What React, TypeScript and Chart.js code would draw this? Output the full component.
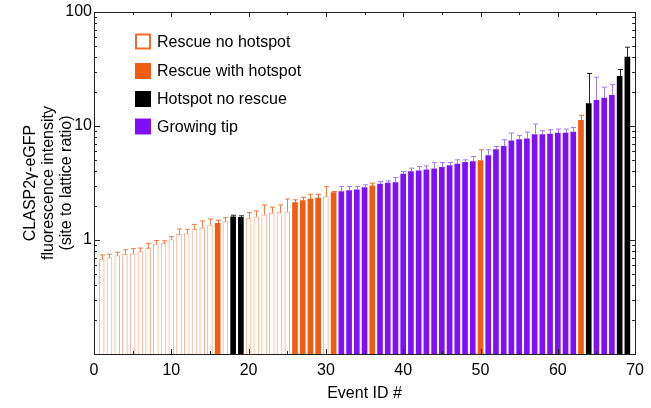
import { useEffect, useRef } from "react";
import { Chart, registerables } from "chart.js";

Chart.register(...registerables);

const FONT = "'Liberation Sans', Arial, Helvetica, sans-serif";

const categories = ["Rescue no hotspot", "Rescue with hotspot", "Hotspot no rescue", "Growing tip"];

const eventIds = Array.from({ length: 69 }, (_, i) => i + 1);

// category index of every event (0..3 -> categories)
const groups = [
  0, 0, 0, 0, 0, 0, 0, 0, 0, 0,
  0, 0, 0, 0, 0, 1, 0, 2, 2, 0,
  0, 0, 0, 0, 0, 1, 1, 1, 1, 0,
  1, 3, 3, 3, 3, 1, 3, 3, 3, 3,
  3, 3, 3, 3, 3, 3, 3, 3, 3, 1,
  3, 3, 3, 3, 3, 3, 3, 3, 3, 3,
  3, 3, 1, 2, 3, 3, 3, 2, 2,
];

const values = [
  0.68, 0.7, 0.73, 0.75, 0.76, 0.79, 0.845, 0.92, 0.935, 1.01,
  1.12, 1.14, 1.24, 1.28, 1.35, 1.4, 1.45, 1.6, 1.58, 1.55,
  1.6, 1.66, 1.72, 1.75, 1.77, 2.13, 2.22, 2.28, 2.33, 2.4,
  2.61, 2.66, 2.71, 2.75, 2.88, 2.98, 3.09, 3.15, 3.19, 3.78,
  3.99, 4.05, 4.12, 4.22, 4.33, 4.5, 4.63, 4.79, 4.88, 4.98,
  5.51, 6.2, 6.62, 7.43, 7.6, 7.7, 8.4, 8.4, 8.5, 8.67,
  8.67, 8.84, 11.2, 15.7, 16.8, 17.6, 18.6, 27.3, 40.2,
];

const errors = [
  0.06, 0.05, 0.05, 0.07, 0.08, 0.06, 0.09, 0.07, 0.05, 0.06,
  0.13, 0.1, 0.13, 0.19, 0.18, 0.09, 0.12, 0.05, 0.05, 0.19,
  0.2, 0.37, 0.22, 0.28, 0.52, 0.12, 0.15, 0.24, 0.19, 0.54,
  0.05, 0.28, 0.23, 0.19, 0.17, 0.17, 0.17, 0.15, 0.34, 0.21,
  0.28, 0.36, 0.35, 0.56, 0.45, 0.28, 0.42, 0.26, 0.52, 1.2,
  0.68, 0.41, 0.96, 1.24, 0.67, 1.15, 2.0, 0.69, 0.77, 0.72,
  0.72, 0.88, 1.2, 13.2, 10, 4.3, 4.5, 4.0, 8.9,
];

const xTicks = [0, 10, 20, 30, 40, 50, 60, 70];
const yTicks = [1, 10, 100];
const yTitle = ["CLASP2γ-eGFP", "fluorescence intensity", "(site to lattice ratio)"];
const xTitle = "Event ID #";

const fills = ["#ffffff", "#f25c12", "#000000", "#7f10f5"];
const borders = ["rgba(240,112,48,0.55)", "#f25c12", "#000000", "#7f10f5"];
const errColors = ["rgba(240,110,50,0.9)", "#f26a30", "#222222", "#a07af2"];
const legendBorders = ["#f26a2a", "#f25c12", "#000000", "#7f10f5"];

const errorPlugin = {
  id: "errorBars",
  afterDatasetsDraw(chart: any) {
    const ctx = chart.ctx;
    const y = chart.scales.y;
    chart.data.datasets.forEach((ds: any, d: number) => {
      const meta = chart.getDatasetMeta(d);
      ctx.save();
      ctx.strokeStyle = errColors[d];
      ctx.lineWidth = 1;
      meta.data.forEach((el: any, i: number) => {
        const v = ds.data[i].y;
        const e = ds.errs[i];
        const x = Math.round(el.x) + 0.5;
        const y0 = y.getPixelForValue(v);
        const y1 = y.getPixelForValue(v + e);
        ctx.beginPath();
        ctx.moveTo(x, y0);
        ctx.lineTo(x, y1);
        ctx.moveTo(x - 2.5, y1);
        ctx.lineTo(x + 2.5, y1);
        ctx.stroke();
      });
      ctx.restore();
    });
  },
};

const framePlugin = {
  id: "frame",
  afterDraw(chart: any) {
    const ctx = chart.ctx;
    const { left, right, top, bottom } = chart.chartArea;
    const xs = chart.scales.x;
    const ys = chart.scales.y;
    ctx.save();
    ctx.strokeStyle = "#222";
    ctx.lineWidth = 1;
    ctx.strokeRect(Math.round(left) + 0.5, Math.round(top) + 0.5, Math.round(right - left), Math.round(bottom - top));
    ctx.beginPath();
    for (let v = 5; v < 70; v += 5) {
      const px = Math.round(xs.getPixelForValue(v)) + 0.5;
      const len = v % 10 === 0 ? 5 : 3;
      ctx.moveTo(px, bottom);
      ctx.lineTo(px, bottom - len);
      ctx.moveTo(px, top);
      ctx.lineTo(px, top + len);
    }
    for (const dec of [0.1, 1, 10]) {
      for (let m = 1; m <= 9; m++) {
        const v = dec * m;
        if (m === 1 && dec === 0.1) continue;
        const py = Math.round(ys.getPixelForValue(v)) + 0.5;
        const len = m === 1 ? 6 : 3;
        ctx.moveTo(left, py);
        ctx.lineTo(left + len, py);
        ctx.moveTo(right, py);
        ctx.lineTo(right - len, py);
      }
    }
    ctx.stroke();
    ctx.restore();
  },
};

const legendPlugin = {
  id: "insideLegend",
  afterDraw(chart: any) {
    const ctx = chart.ctx;
    const rows = [41.5, 71, 99, 126.5];
    ctx.save();
    ctx.font = `16px ${FONT}`;
    ctx.textBaseline = "middle";
    ctx.textAlign = "left";
    chart.data.datasets.forEach((ds: any, g: number) => {
      const cy = rows[g];
      if (g === 0) {
        ctx.fillStyle = "#fff";
        ctx.fillRect(135, cy - 8, 16, 16);
        ctx.strokeStyle = legendBorders[g];
        ctx.lineWidth = 2;
        ctx.strokeRect(136, cy - 7, 14, 14);
      } else {
        ctx.fillStyle = legendBorders[g];
        ctx.fillRect(135, cy - 8, 16, 16);
      }
      ctx.fillStyle = "#000";
      ctx.fillText(ds.label, 157, cy + 1);
    });
    ctx.restore();
  },
};

export default function App() {
  const ref = useRef<HTMLCanvasElement | null>(null);

  useEffect(() => {
    if (!ref.current) return;
    const datasets = categories.map((label, g) => {
      const idx = eventIds.map((_, i) => i).filter((i) => groups[i] === g);
      return {
        label,
        data: idx.map((i) => ({ x: eventIds[i], y: values[i] })),
        errs: idx.map((i) => errors[i]),
        backgroundColor: fills[g],
        borderColor: borders[g],
        borderWidth: g === 0 ? 1 : 0,
        barThickness: 5,
        grouped: false,
      };
    });

    const chart = new Chart(ref.current, {
      type: "bar",
      data: { datasets } as any,
      options: {
        animation: false,
        responsive: true,
        maintainAspectRatio: false,
        layout: { padding: { top: 12, right: 11, left: 0, bottom: 0 } },
        plugins: { legend: { display: false }, tooltip: { enabled: false } },
        scales: {
          x: {
            type: "linear",
            min: 0,
            max: 70,
            offset: false,
            grid: { display: false, drawTicks: false },
            border: { display: false },
            afterBuildTicks: (s: any) => {
              s.ticks = xTicks.map((v) => ({ value: v }));
            },
            ticks: {
              padding: 7,
              color: "#000",
              maxRotation: 0,
              autoSkip: false,
              font: { family: FONT, size: 16 },
              callback: (v: any) => String(v),
            },
            title: {
              display: true,
              text: xTitle,
              color: "#000",
              font: { family: FONT, size: 16 },
              padding: { top: 0, bottom: 5 },
            },
            afterFit: (s: any) => {
              s.height = 54;
            },
          },
          y: {
            type: "logarithmic",
            min: 0.1,
            max: 100,
            grid: { display: false, drawTicks: false },
            border: { display: false },
            afterBuildTicks: (s: any) => {
              s.ticks = yTicks.map((v) => ({ value: v }));
            },
            ticks: {
              padding: 2,
              color: "#000",
              autoSkip: false,
              font: { family: FONT, size: 16 },
              callback: (v: any) => String(v),
            },
            title: {
              display: true,
              text: yTitle,
              color: "#000",
              font: { family: FONT, size: 16, lineHeight: 1.15 },
              padding: { top: 21, bottom: 0 },
            },
            afterFit: (s: any) => {
              s.width = 94;
            },
          },
        },
      } as any,
      plugins: [errorPlugin, framePlugin, legendPlugin],
    });
    return () => chart.destroy();
  }, []);

  return (
    <div style={{ position: "fixed", left: 0, top: 0, width: 651, height: 408, background: "#fff" }}>
      <canvas ref={ref} />
    </div>
  );
}
